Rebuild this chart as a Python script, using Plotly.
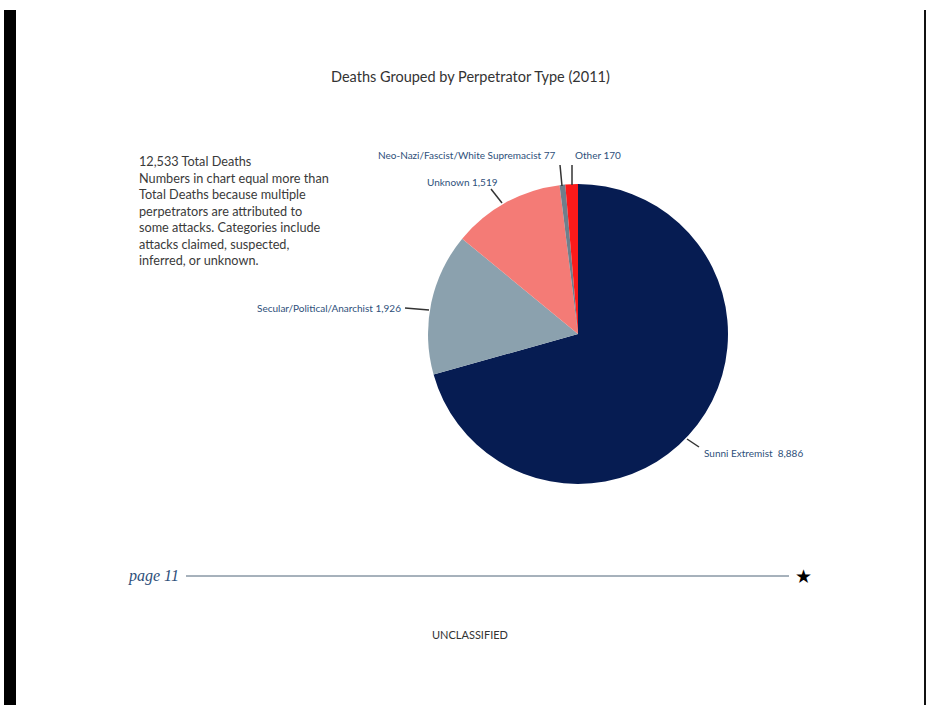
import plotly.graph_objects as go

W, H = 927, 705

categories = ["Sunni Extremist", "Secular/Political/Anarchist", "Unknown",
              "Neo-Nazi/Fascist/White Supremacist", "Other"]
values = [8886, 1926, 1519, 77, 170]
colors = ["#061c52", "#8ba1ae", "#f47b76", "#6f7f8b", "#fb1a1a"]
label_texts = ["Sunni Extremist  8,886", "Secular/Political/Anarchist 1,926",
               "Unknown 1,519", "Neo-Nazi/Fascist/White Supremacist 77", "Other 170"]

title_text = "Deaths Grouped by Perpetrator Type (2011)"
note_lines = ["12,533 Total Deaths",
              "Numbers in chart equal more than",
              "Total Deaths because multiple",
              "perpetrators are attributed to",
              "some attacks. Categories include",
              "attacks claimed, suspected,",
              "inferred, or unknown."]


def px(x):
    return x / W


def py(y):
    return 1 - y / H


fig = go.Figure()
fig.add_trace(go.Pie(
    labels=categories, values=values, sort=False, direction="clockwise",
    rotation=0, marker=dict(colors=colors, line=dict(width=0)),
    textinfo="none", hoverinfo="label+value", showlegend=False,
    domain=dict(x=[px(428), px(728)], y=[py(484), py(184)]),
))

# label positions (pixel coords): text anchor and leader line
label_layout = [
    dict(x=702, y=453, xa="left", line=((687, 439), (699, 447))),
    dict(x=403, y=308, xa="right", line=((405, 308), (429, 310))),
    dict(x=500, y=182, xa="right", line=((491, 189), (502, 203))),
    dict(x=557, y=155, xa="right", line=((560, 165), (562, 186))),
    dict(x=573, y=155, xa="left", line=((572, 165), (572, 185))),
]

annotations = []
shapes = []
for txt, L in zip(label_texts, label_layout):
    annotations.append(dict(x=px(L["x"]), y=py(L["y"]), xref="paper", yref="paper",
                            text=txt, showarrow=False, xanchor=L["xa"], yanchor="middle",
                            font=dict(family="Lato", size=10, color="#2e4f7a")))
    (x0, y0), (x1, y1) = L["line"]
    shapes.append(dict(type="line", xref="paper", yref="paper",
                       x0=px(x0), y0=py(y0), x1=px(x1), y1=py(y1),
                       line=dict(color="#333333", width=1.5)))

annotations.append(dict(x=px(471), y=py(76), xref="paper", yref="paper", text=title_text,
                        showarrow=False, xanchor="center", yanchor="middle",
                        font=dict(family="Lato", size=14.5, color="#333333")))
annotations.append(dict(x=px(137), y=py(151), xref="paper", yref="paper",
                        text="<br>".join(note_lines), showarrow=False, align="left",
                        xanchor="left", yanchor="top",
                        font=dict(family="Lato", size=12.7, color="#3a3a3a")))
annotations.append(dict(x=px(181), y=py(576), xref="paper", yref="paper",
                        text="<i>page 11</i>", showarrow=False, xanchor="right",
                        yanchor="middle",
                        font=dict(family="Liberation Serif", size=16, color="#2e4f7a")))
annotations.append(dict(x=px(803), y=py(576), xref="paper", yref="paper",
                        text="★", showarrow=False, xanchor="center", yanchor="middle",
                        font=dict(family="DejaVu Sans", size=19, color="#000000")))
annotations.append(dict(x=px(470), y=py(634), xref="paper", yref="paper",
                        text="UNCLASSIFIED", showarrow=False, xanchor="center",
                        yanchor="middle",
                        font=dict(family="Lato", size=11, color="#333333")))

# footer rule
shapes.append(dict(type="line", xref="paper", yref="paper", x0=px(186), y0=py(576),
                   x1=px(789), y1=py(576), line=dict(color="#4e6579", width=1)))
# page border bars
shapes.append(dict(type="rect", xref="paper", yref="paper", x0=px(4), y0=py(10),
                   x1=px(16), y1=0, fillcolor="#000000", line=dict(width=0)))
shapes.append(dict(type="rect", xref="paper", yref="paper", x0=px(924), y0=py(10),
                   x1=px(926), y1=0, fillcolor="#111111", line=dict(width=0)))

fig.update_layout(width=W, height=H, margin=dict(l=0, r=0, t=0, b=0),
                  paper_bgcolor="#ffffff", plot_bgcolor="#ffffff",
                  annotations=annotations, shapes=shapes)

fig.write_html("out.html")
